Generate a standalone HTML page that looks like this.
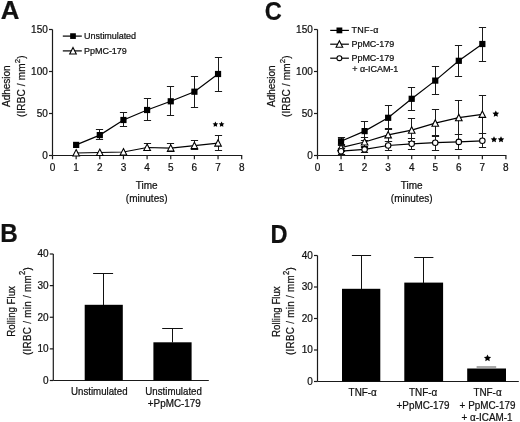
<!DOCTYPE html>
<html><head><meta charset="utf-8"><title>Figure</title>
<style>
html,body{margin:0;padding:0;background:#fff;}
body{width:520px;height:422px;overflow:hidden;}
svg{display:block;font-family:"Liberation Sans", sans-serif;fill:#111;filter:grayscale(1) blur(0.35px);}
text{stroke:#111;stroke-width:0.22px;}
</style></head><body>
<svg width="520" height="422" viewBox="0 0 520 422">
<rect width="520" height="422" fill="#fff"/>
<g fill="#111">
<text transform="translate(0.85,18.6) scale(1.02,1)" font-size="25.3" font-weight="bold">A</text>
<line x1="52.5" y1="29.5" x2="52.5" y2="155.5" stroke="#1a1a1a" stroke-width="1.2"/>
<line x1="49.0" y1="29.5" x2="52.5" y2="29.5" stroke="#1a1a1a" stroke-width="1.2"/>
<text x="47.8" y="32.8" font-size="10" text-anchor="end" font-weight="normal" >150</text>
<line x1="49.0" y1="71.5" x2="52.5" y2="71.5" stroke="#1a1a1a" stroke-width="1.2"/>
<text x="47.8" y="74.8" font-size="10" text-anchor="end" font-weight="normal" >100</text>
<line x1="49.0" y1="113.5" x2="52.5" y2="113.5" stroke="#1a1a1a" stroke-width="1.2"/>
<text x="47.8" y="116.8" font-size="10" text-anchor="end" font-weight="normal" >50</text>
<line x1="49.0" y1="155.5" x2="52.5" y2="155.5" stroke="#1a1a1a" stroke-width="1.2"/>
<text x="47.8" y="158.8" font-size="10" text-anchor="end" font-weight="normal" >0</text>
<line x1="52.5" y1="155.5" x2="242.2" y2="155.5" stroke="#1a1a1a" stroke-width="1.2"/>
<line x1="52.5" y1="155.5" x2="52.5" y2="159.3" stroke="#1a1a1a" stroke-width="1.2"/>
<text x="52.5" y="170.8" font-size="10" text-anchor="middle" font-weight="normal" >0</text>
<line x1="76.15" y1="155.5" x2="76.15" y2="159.3" stroke="#1a1a1a" stroke-width="1.2"/>
<text x="76.15" y="170.8" font-size="10" text-anchor="middle" font-weight="normal" >1</text>
<line x1="99.8" y1="155.5" x2="99.8" y2="159.3" stroke="#1a1a1a" stroke-width="1.2"/>
<text x="99.8" y="170.8" font-size="10" text-anchor="middle" font-weight="normal" >2</text>
<line x1="123.44999999999999" y1="155.5" x2="123.44999999999999" y2="159.3" stroke="#1a1a1a" stroke-width="1.2"/>
<text x="123.44999999999999" y="170.8" font-size="10" text-anchor="middle" font-weight="normal" >3</text>
<line x1="147.1" y1="155.5" x2="147.1" y2="159.3" stroke="#1a1a1a" stroke-width="1.2"/>
<text x="147.1" y="170.8" font-size="10" text-anchor="middle" font-weight="normal" >4</text>
<line x1="170.75" y1="155.5" x2="170.75" y2="159.3" stroke="#1a1a1a" stroke-width="1.2"/>
<text x="170.75" y="170.8" font-size="10" text-anchor="middle" font-weight="normal" >5</text>
<line x1="194.39999999999998" y1="155.5" x2="194.39999999999998" y2="159.3" stroke="#1a1a1a" stroke-width="1.2"/>
<text x="194.39999999999998" y="170.8" font-size="10" text-anchor="middle" font-weight="normal" >6</text>
<line x1="218.04999999999998" y1="155.5" x2="218.04999999999998" y2="159.3" stroke="#1a1a1a" stroke-width="1.2"/>
<text x="218.04999999999998" y="170.8" font-size="10" text-anchor="middle" font-weight="normal" >7</text>
<line x1="241.7" y1="155.5" x2="241.7" y2="159.3" stroke="#1a1a1a" stroke-width="1.2"/>
<text x="241.7" y="170.8" font-size="10" text-anchor="middle" font-weight="normal" >8</text>
<text x="146.7" y="188.5" font-size="10" text-anchor="middle" font-weight="normal" >Time</text>
<text x="146.7" y="201.5" font-size="10" text-anchor="middle" font-weight="normal" >(minutes)</text>
<text transform="translate(10.4,86.2) rotate(-90)" font-size="10" text-anchor="middle">Adhesion</text>
<text transform="translate(24.6,86.2) rotate(-90)" font-size="10" letter-spacing="0.15" text-anchor="middle">(IRBC / mm<tspan font-size="7.8" dy="-4.6">2</tspan><tspan dy="4.6">)</tspan></text>
<line x1="62.8" y1="36.1" x2="81.8" y2="36.1" stroke="#000" stroke-width="1.2"/>
<rect x="70.15" y="33.25" width="5.7" height="5.7" fill="#000"/>
<text x="84.1" y="39.1" font-size="9.0" text-anchor="start" font-weight="normal" letter-spacing="-0.05">Unstimulated</text>
<line x1="62.8" y1="50.9" x2="81.8" y2="50.9" stroke="#000" stroke-width="1.2"/>
<polygon points="73,47.4 76.3,54.0 69.7,54.0" fill="#fff" stroke="#000" stroke-width="1.1" stroke-linejoin="miter"/>
<text x="84.1" y="54.4" font-size="9.0" text-anchor="start" font-weight="normal" letter-spacing="-0.05">PpMC-179</text>
<line x1="99.5" y1="129.5" x2="99.5" y2="139.5" stroke="#1a1a1a" stroke-width="1.0"/>
<line x1="95.9" y1="129.5" x2="103.1" y2="129.5" stroke="#1a1a1a" stroke-width="1.0"/>
<line x1="95.9" y1="139.5" x2="103.1" y2="139.5" stroke="#1a1a1a" stroke-width="1.0"/>
<line x1="123.5" y1="112.5" x2="123.5" y2="126.5" stroke="#1a1a1a" stroke-width="1.0"/>
<line x1="119.9" y1="112.5" x2="127.1" y2="112.5" stroke="#1a1a1a" stroke-width="1.0"/>
<line x1="119.9" y1="126.5" x2="127.1" y2="126.5" stroke="#1a1a1a" stroke-width="1.0"/>
<line x1="147.5" y1="98.5" x2="147.5" y2="120.5" stroke="#1a1a1a" stroke-width="1.0"/>
<line x1="143.9" y1="98.5" x2="151.1" y2="98.5" stroke="#1a1a1a" stroke-width="1.0"/>
<line x1="143.9" y1="120.5" x2="151.1" y2="120.5" stroke="#1a1a1a" stroke-width="1.0"/>
<line x1="170.5" y1="86.5" x2="170.5" y2="115.5" stroke="#1a1a1a" stroke-width="1.0"/>
<line x1="166.9" y1="86.5" x2="174.1" y2="86.5" stroke="#1a1a1a" stroke-width="1.0"/>
<line x1="166.9" y1="115.5" x2="174.1" y2="115.5" stroke="#1a1a1a" stroke-width="1.0"/>
<line x1="194.5" y1="76.5" x2="194.5" y2="107.5" stroke="#1a1a1a" stroke-width="1.0"/>
<line x1="190.9" y1="76.5" x2="198.1" y2="76.5" stroke="#1a1a1a" stroke-width="1.0"/>
<line x1="190.9" y1="107.5" x2="198.1" y2="107.5" stroke="#1a1a1a" stroke-width="1.0"/>
<line x1="218.5" y1="57.5" x2="218.5" y2="91.5" stroke="#1a1a1a" stroke-width="1.0"/>
<line x1="214.9" y1="57.5" x2="222.1" y2="57.5" stroke="#1a1a1a" stroke-width="1.0"/>
<line x1="214.9" y1="91.5" x2="222.1" y2="91.5" stroke="#1a1a1a" stroke-width="1.0"/>
<line x1="147.5" y1="143.5" x2="147.5" y2="150.5" stroke="#1a1a1a" stroke-width="1.0"/>
<line x1="143.9" y1="143.5" x2="151.1" y2="143.5" stroke="#1a1a1a" stroke-width="1.0"/>
<line x1="143.9" y1="150.5" x2="151.1" y2="150.5" stroke="#1a1a1a" stroke-width="1.0"/>
<line x1="170.5" y1="143.5" x2="170.5" y2="151.5" stroke="#1a1a1a" stroke-width="1.0"/>
<line x1="166.9" y1="143.5" x2="174.1" y2="143.5" stroke="#1a1a1a" stroke-width="1.0"/>
<line x1="166.9" y1="151.5" x2="174.1" y2="151.5" stroke="#1a1a1a" stroke-width="1.0"/>
<line x1="194.5" y1="140.5" x2="194.5" y2="149.5" stroke="#1a1a1a" stroke-width="1.0"/>
<line x1="190.9" y1="140.5" x2="198.1" y2="140.5" stroke="#1a1a1a" stroke-width="1.0"/>
<line x1="190.9" y1="149.5" x2="198.1" y2="149.5" stroke="#1a1a1a" stroke-width="1.0"/>
<line x1="218.5" y1="135.5" x2="218.5" y2="150.5" stroke="#1a1a1a" stroke-width="1.0"/>
<line x1="214.9" y1="135.5" x2="222.1" y2="135.5" stroke="#1a1a1a" stroke-width="1.0"/>
<line x1="214.9" y1="150.5" x2="222.1" y2="150.5" stroke="#1a1a1a" stroke-width="1.0"/>
<polyline points="76.15,144.9 99.8,135.1 123.44999999999999,120 147.1,110 170.75,101.3 194.39999999999998,91.7 218.04999999999998,74" fill="none" stroke="#000" stroke-width="1.2"/>
<polyline points="76.15,153 99.8,152.5 123.44999999999999,152 147.1,147.5 170.75,148.1 194.39999999999998,145.6 218.04999999999998,143.1" fill="none" stroke="#000" stroke-width="1.2"/>
<rect x="73.05000000000001" y="141.8" width="6.2" height="6.2" fill="#000"/>
<rect x="96.7" y="132.0" width="6.2" height="6.2" fill="#000"/>
<rect x="120.35" y="116.9" width="6.2" height="6.2" fill="#000"/>
<rect x="144.0" y="106.9" width="6.2" height="6.2" fill="#000"/>
<rect x="167.65" y="98.2" width="6.2" height="6.2" fill="#000"/>
<rect x="191.29999999999998" y="88.60000000000001" width="6.2" height="6.2" fill="#000"/>
<rect x="214.95" y="70.9" width="6.2" height="6.2" fill="#000"/>
<polygon points="76.15,149.6 79.45,156.0 72.85000000000001,156.0" fill="#fff" stroke="#000" stroke-width="1.1" stroke-linejoin="miter"/>
<polygon points="99.8,149.1 103.1,155.5 96.5,155.5" fill="#fff" stroke="#000" stroke-width="1.1" stroke-linejoin="miter"/>
<polygon points="123.44999999999999,148.6 126.74999999999999,155.0 120.14999999999999,155.0" fill="#fff" stroke="#000" stroke-width="1.1" stroke-linejoin="miter"/>
<polygon points="147.1,144.1 150.4,150.5 143.79999999999998,150.5" fill="#fff" stroke="#000" stroke-width="1.1" stroke-linejoin="miter"/>
<polygon points="170.75,144.7 174.05,151.1 167.45,151.1" fill="#fff" stroke="#000" stroke-width="1.1" stroke-linejoin="miter"/>
<polygon points="194.39999999999998,142.2 197.7,148.6 191.09999999999997,148.6" fill="#fff" stroke="#000" stroke-width="1.1" stroke-linejoin="miter"/>
<polygon points="218.04999999999998,139.7 221.35,146.1 214.74999999999997,146.1" fill="#fff" stroke="#000" stroke-width="1.1" stroke-linejoin="miter"/>
<polygon points="215.40,121.40 216.28,123.19 218.25,123.47 216.83,124.86 217.16,126.83 215.40,125.90 213.64,126.83 213.97,124.86 212.55,123.47 214.52,123.19" fill="#000"/>
<polygon points="221.60,121.40 222.48,123.19 224.45,123.47 223.03,124.86 223.36,126.83 221.60,125.90 219.84,126.83 220.17,124.86 218.75,123.47 220.72,123.19" fill="#000"/>
<text transform="translate(264.7,19.65) scale(0.92,1)" font-size="25.7" font-weight="bold">C</text>
<line x1="317.5" y1="29.5" x2="317.5" y2="155.5" stroke="#1a1a1a" stroke-width="1.2"/>
<line x1="314.0" y1="29.5" x2="317.5" y2="29.5" stroke="#1a1a1a" stroke-width="1.2"/>
<text x="312.8" y="32.8" font-size="10" text-anchor="end" font-weight="normal" >150</text>
<line x1="314.0" y1="71.5" x2="317.5" y2="71.5" stroke="#1a1a1a" stroke-width="1.2"/>
<text x="312.8" y="74.8" font-size="10" text-anchor="end" font-weight="normal" >100</text>
<line x1="314.0" y1="113.5" x2="317.5" y2="113.5" stroke="#1a1a1a" stroke-width="1.2"/>
<text x="312.8" y="116.8" font-size="10" text-anchor="end" font-weight="normal" >50</text>
<line x1="314.0" y1="155.5" x2="317.5" y2="155.5" stroke="#1a1a1a" stroke-width="1.2"/>
<text x="312.8" y="158.8" font-size="10" text-anchor="end" font-weight="normal" >0</text>
<line x1="317.5" y1="155.5" x2="506.4" y2="155.5" stroke="#1a1a1a" stroke-width="1.2"/>
<line x1="317.5" y1="155.5" x2="317.5" y2="159.3" stroke="#1a1a1a" stroke-width="1.2"/>
<text x="317.5" y="170.8" font-size="10" text-anchor="middle" font-weight="normal" >0</text>
<line x1="341.05" y1="155.5" x2="341.05" y2="159.3" stroke="#1a1a1a" stroke-width="1.2"/>
<text x="341.05" y="170.8" font-size="10" text-anchor="middle" font-weight="normal" >1</text>
<line x1="364.6" y1="155.5" x2="364.6" y2="159.3" stroke="#1a1a1a" stroke-width="1.2"/>
<text x="364.6" y="170.8" font-size="10" text-anchor="middle" font-weight="normal" >2</text>
<line x1="388.15" y1="155.5" x2="388.15" y2="159.3" stroke="#1a1a1a" stroke-width="1.2"/>
<text x="388.15" y="170.8" font-size="10" text-anchor="middle" font-weight="normal" >3</text>
<line x1="411.7" y1="155.5" x2="411.7" y2="159.3" stroke="#1a1a1a" stroke-width="1.2"/>
<text x="411.7" y="170.8" font-size="10" text-anchor="middle" font-weight="normal" >4</text>
<line x1="435.25" y1="155.5" x2="435.25" y2="159.3" stroke="#1a1a1a" stroke-width="1.2"/>
<text x="435.25" y="170.8" font-size="10" text-anchor="middle" font-weight="normal" >5</text>
<line x1="458.8" y1="155.5" x2="458.8" y2="159.3" stroke="#1a1a1a" stroke-width="1.2"/>
<text x="458.8" y="170.8" font-size="10" text-anchor="middle" font-weight="normal" >6</text>
<line x1="482.35" y1="155.5" x2="482.35" y2="159.3" stroke="#1a1a1a" stroke-width="1.2"/>
<text x="482.35" y="170.8" font-size="10" text-anchor="middle" font-weight="normal" >7</text>
<line x1="505.9" y1="155.5" x2="505.9" y2="159.3" stroke="#1a1a1a" stroke-width="1.2"/>
<text x="505.9" y="170.8" font-size="10" text-anchor="middle" font-weight="normal" >8</text>
<text x="411.7" y="188.5" font-size="10" text-anchor="middle" font-weight="normal" >Time</text>
<text x="411.7" y="201.5" font-size="10" text-anchor="middle" font-weight="normal" >(minutes)</text>
<text transform="translate(275.4,86.2) rotate(-90)" font-size="10" text-anchor="middle">Adhesion</text>
<text transform="translate(289.6,86.2) rotate(-90)" font-size="10" letter-spacing="0.15" text-anchor="middle">(IRBC / mm<tspan font-size="7.8" dy="-4.6">2</tspan><tspan dy="4.6">)</tspan></text>
<line x1="330.2" y1="30.4" x2="348.9" y2="30.4" stroke="#000" stroke-width="1.2"/>
<rect x="336.5" y="27.5" width="5.8" height="5.8" fill="#000"/>
<text x="351.5" y="33.2" font-size="9.0" text-anchor="start" font-weight="normal" letter-spacing="0.3">TNF-α</text>
<line x1="330.2" y1="44.2" x2="348.9" y2="44.2" stroke="#000" stroke-width="1.2"/>
<polygon points="339.4,40.800000000000004 342.7,47.2 336.09999999999997,47.2" fill="#fff" stroke="#000" stroke-width="1.1" stroke-linejoin="miter"/>
<text x="351.5" y="47.2" font-size="9.0" text-anchor="start" font-weight="normal" letter-spacing="-0.05">PpMC-179</text>
<line x1="330.2" y1="58.2" x2="348.9" y2="58.2" stroke="#000" stroke-width="1.2"/>
<circle cx="339.4" cy="58.2" r="2.45" fill="#fff" stroke="#000" stroke-width="1.1"/>
<text x="351.5" y="61.2" font-size="9.0" text-anchor="start" font-weight="normal" letter-spacing="-0.05">PpMC-179</text>
<text x="352.3" y="71.5" font-size="9.0" text-anchor="start" font-weight="normal" letter-spacing="-0.05">+ α-ICAM-1</text>
<line x1="341.5" y1="137.5" x2="341.5" y2="145.5" stroke="#1a1a1a" stroke-width="1.0"/>
<line x1="337.9" y1="137.5" x2="345.1" y2="137.5" stroke="#1a1a1a" stroke-width="1.0"/>
<line x1="337.9" y1="145.5" x2="345.1" y2="145.5" stroke="#1a1a1a" stroke-width="1.0"/>
<line x1="364.5" y1="121.5" x2="364.5" y2="140.5" stroke="#1a1a1a" stroke-width="1.0"/>
<line x1="360.9" y1="121.5" x2="368.1" y2="121.5" stroke="#1a1a1a" stroke-width="1.0"/>
<line x1="360.9" y1="140.5" x2="368.1" y2="140.5" stroke="#1a1a1a" stroke-width="1.0"/>
<line x1="388.5" y1="105.5" x2="388.5" y2="129.5" stroke="#1a1a1a" stroke-width="1.0"/>
<line x1="384.9" y1="105.5" x2="392.1" y2="105.5" stroke="#1a1a1a" stroke-width="1.0"/>
<line x1="384.9" y1="129.5" x2="392.1" y2="129.5" stroke="#1a1a1a" stroke-width="1.0"/>
<line x1="411.5" y1="87.5" x2="411.5" y2="110.5" stroke="#1a1a1a" stroke-width="1.0"/>
<line x1="407.9" y1="87.5" x2="415.1" y2="87.5" stroke="#1a1a1a" stroke-width="1.0"/>
<line x1="407.9" y1="110.5" x2="415.1" y2="110.5" stroke="#1a1a1a" stroke-width="1.0"/>
<line x1="435.5" y1="66.5" x2="435.5" y2="94.5" stroke="#1a1a1a" stroke-width="1.0"/>
<line x1="431.9" y1="66.5" x2="439.1" y2="66.5" stroke="#1a1a1a" stroke-width="1.0"/>
<line x1="431.9" y1="94.5" x2="439.1" y2="94.5" stroke="#1a1a1a" stroke-width="1.0"/>
<line x1="458.5" y1="45.5" x2="458.5" y2="76.5" stroke="#1a1a1a" stroke-width="1.0"/>
<line x1="454.9" y1="45.5" x2="462.1" y2="45.5" stroke="#1a1a1a" stroke-width="1.0"/>
<line x1="454.9" y1="76.5" x2="462.1" y2="76.5" stroke="#1a1a1a" stroke-width="1.0"/>
<line x1="482.5" y1="27.5" x2="482.5" y2="61.5" stroke="#1a1a1a" stroke-width="1.0"/>
<line x1="478.9" y1="27.5" x2="486.1" y2="27.5" stroke="#1a1a1a" stroke-width="1.0"/>
<line x1="478.9" y1="61.5" x2="486.1" y2="61.5" stroke="#1a1a1a" stroke-width="1.0"/>
<line x1="341.5" y1="144.5" x2="341.5" y2="151.5" stroke="#1a1a1a" stroke-width="1.0"/>
<line x1="337.9" y1="144.5" x2="345.1" y2="144.5" stroke="#1a1a1a" stroke-width="1.0"/>
<line x1="337.9" y1="151.5" x2="345.1" y2="151.5" stroke="#1a1a1a" stroke-width="1.0"/>
<line x1="364.5" y1="137.5" x2="364.5" y2="147.5" stroke="#1a1a1a" stroke-width="1.0"/>
<line x1="360.9" y1="137.5" x2="368.1" y2="137.5" stroke="#1a1a1a" stroke-width="1.0"/>
<line x1="360.9" y1="147.5" x2="368.1" y2="147.5" stroke="#1a1a1a" stroke-width="1.0"/>
<line x1="388.5" y1="128.5" x2="388.5" y2="141.5" stroke="#1a1a1a" stroke-width="1.0"/>
<line x1="384.9" y1="128.5" x2="392.1" y2="128.5" stroke="#1a1a1a" stroke-width="1.0"/>
<line x1="384.9" y1="141.5" x2="392.1" y2="141.5" stroke="#1a1a1a" stroke-width="1.0"/>
<line x1="411.5" y1="118.5" x2="411.5" y2="141.5" stroke="#1a1a1a" stroke-width="1.0"/>
<line x1="407.9" y1="118.5" x2="415.1" y2="118.5" stroke="#1a1a1a" stroke-width="1.0"/>
<line x1="407.9" y1="141.5" x2="415.1" y2="141.5" stroke="#1a1a1a" stroke-width="1.0"/>
<line x1="435.5" y1="109.5" x2="435.5" y2="136.5" stroke="#1a1a1a" stroke-width="1.0"/>
<line x1="431.9" y1="109.5" x2="439.1" y2="109.5" stroke="#1a1a1a" stroke-width="1.0"/>
<line x1="431.9" y1="136.5" x2="439.1" y2="136.5" stroke="#1a1a1a" stroke-width="1.0"/>
<line x1="458.5" y1="100.5" x2="458.5" y2="134.5" stroke="#1a1a1a" stroke-width="1.0"/>
<line x1="454.9" y1="100.5" x2="462.1" y2="100.5" stroke="#1a1a1a" stroke-width="1.0"/>
<line x1="454.9" y1="134.5" x2="462.1" y2="134.5" stroke="#1a1a1a" stroke-width="1.0"/>
<line x1="482.5" y1="95.5" x2="482.5" y2="133.5" stroke="#1a1a1a" stroke-width="1.0"/>
<line x1="478.9" y1="95.5" x2="486.1" y2="95.5" stroke="#1a1a1a" stroke-width="1.0"/>
<line x1="478.9" y1="133.5" x2="486.1" y2="133.5" stroke="#1a1a1a" stroke-width="1.0"/>
<line x1="341.5" y1="148.5" x2="341.5" y2="154.5" stroke="#1a1a1a" stroke-width="1.0"/>
<line x1="337.9" y1="148.5" x2="345.1" y2="148.5" stroke="#1a1a1a" stroke-width="1.0"/>
<line x1="337.9" y1="154.5" x2="345.1" y2="154.5" stroke="#1a1a1a" stroke-width="1.0"/>
<line x1="364.5" y1="146.5" x2="364.5" y2="152.5" stroke="#1a1a1a" stroke-width="1.0"/>
<line x1="360.9" y1="146.5" x2="368.1" y2="146.5" stroke="#1a1a1a" stroke-width="1.0"/>
<line x1="360.9" y1="152.5" x2="368.1" y2="152.5" stroke="#1a1a1a" stroke-width="1.0"/>
<line x1="388.5" y1="141.5" x2="388.5" y2="150.5" stroke="#1a1a1a" stroke-width="1.0"/>
<line x1="384.9" y1="141.5" x2="392.1" y2="141.5" stroke="#1a1a1a" stroke-width="1.0"/>
<line x1="384.9" y1="150.5" x2="392.1" y2="150.5" stroke="#1a1a1a" stroke-width="1.0"/>
<line x1="411.5" y1="138.5" x2="411.5" y2="149.5" stroke="#1a1a1a" stroke-width="1.0"/>
<line x1="407.9" y1="138.5" x2="415.1" y2="138.5" stroke="#1a1a1a" stroke-width="1.0"/>
<line x1="407.9" y1="149.5" x2="415.1" y2="149.5" stroke="#1a1a1a" stroke-width="1.0"/>
<line x1="435.5" y1="135.5" x2="435.5" y2="150.5" stroke="#1a1a1a" stroke-width="1.0"/>
<line x1="431.9" y1="135.5" x2="439.1" y2="135.5" stroke="#1a1a1a" stroke-width="1.0"/>
<line x1="431.9" y1="150.5" x2="439.1" y2="150.5" stroke="#1a1a1a" stroke-width="1.0"/>
<line x1="458.5" y1="134.5" x2="458.5" y2="149.5" stroke="#1a1a1a" stroke-width="1.0"/>
<line x1="454.9" y1="134.5" x2="462.1" y2="134.5" stroke="#1a1a1a" stroke-width="1.0"/>
<line x1="454.9" y1="149.5" x2="462.1" y2="149.5" stroke="#1a1a1a" stroke-width="1.0"/>
<line x1="482.5" y1="133.5" x2="482.5" y2="147.5" stroke="#1a1a1a" stroke-width="1.0"/>
<line x1="478.9" y1="133.5" x2="486.1" y2="133.5" stroke="#1a1a1a" stroke-width="1.0"/>
<line x1="478.9" y1="147.5" x2="486.1" y2="147.5" stroke="#1a1a1a" stroke-width="1.0"/>
<polyline points="341.05,141.3 364.6,131.1 388.15,117.8 411.7,98.8 435.25,80.6 458.8,60.8 482.35,44" fill="none" stroke="#000" stroke-width="1.2"/>
<polyline points="341.05,147.6 364.6,142 388.15,134.9 411.7,130.2 435.25,123.2 458.8,117.7 482.35,114.4" fill="none" stroke="#000" stroke-width="1.2"/>
<polyline points="341.05,151.2 364.6,149.4 388.15,145.5 411.7,143.8 435.25,142.7 458.8,141.9 482.35,140.8" fill="none" stroke="#000" stroke-width="1.2"/>
<rect x="337.95" y="138.20000000000002" width="6.2" height="6.2" fill="#000"/>
<rect x="361.5" y="128.0" width="6.2" height="6.2" fill="#000"/>
<rect x="385.04999999999995" y="114.7" width="6.2" height="6.2" fill="#000"/>
<rect x="408.59999999999997" y="95.7" width="6.2" height="6.2" fill="#000"/>
<rect x="432.15" y="77.5" width="6.2" height="6.2" fill="#000"/>
<rect x="455.7" y="57.699999999999996" width="6.2" height="6.2" fill="#000"/>
<rect x="479.25" y="40.9" width="6.2" height="6.2" fill="#000"/>
<polygon points="341.05,144.2 344.35,150.6 337.75,150.6" fill="#fff" stroke="#000" stroke-width="1.1" stroke-linejoin="miter"/>
<polygon points="364.6,138.6 367.90000000000003,145.0 361.3,145.0" fill="#fff" stroke="#000" stroke-width="1.1" stroke-linejoin="miter"/>
<polygon points="388.15,131.5 391.45,137.9 384.84999999999997,137.9" fill="#fff" stroke="#000" stroke-width="1.1" stroke-linejoin="miter"/>
<polygon points="411.7,126.79999999999998 415.0,133.2 408.4,133.2" fill="#fff" stroke="#000" stroke-width="1.1" stroke-linejoin="miter"/>
<polygon points="435.25,119.8 438.55,126.2 431.95,126.2" fill="#fff" stroke="#000" stroke-width="1.1" stroke-linejoin="miter"/>
<polygon points="458.8,114.3 462.1,120.7 455.5,120.7" fill="#fff" stroke="#000" stroke-width="1.1" stroke-linejoin="miter"/>
<polygon points="482.35,111.0 485.65000000000003,117.4 479.05,117.4" fill="#fff" stroke="#000" stroke-width="1.1" stroke-linejoin="miter"/>
<circle cx="341.05" cy="151.2" r="2.75" fill="#fff" stroke="#000" stroke-width="1.1"/>
<circle cx="364.6" cy="149.4" r="2.75" fill="#fff" stroke="#000" stroke-width="1.1"/>
<circle cx="388.15" cy="145.5" r="2.75" fill="#fff" stroke="#000" stroke-width="1.1"/>
<circle cx="411.7" cy="143.8" r="2.75" fill="#fff" stroke="#000" stroke-width="1.1"/>
<circle cx="435.25" cy="142.7" r="2.75" fill="#fff" stroke="#000" stroke-width="1.1"/>
<circle cx="458.8" cy="141.9" r="2.75" fill="#fff" stroke="#000" stroke-width="1.1"/>
<circle cx="482.35" cy="140.8" r="2.75" fill="#fff" stroke="#000" stroke-width="1.1"/>
<polygon points="495.80,110.40 496.83,112.48 499.13,112.82 497.46,114.44 497.86,116.73 495.80,115.65 493.74,116.73 494.14,114.44 492.47,112.82 494.77,112.48" fill="#000"/>
<polygon points="494.00,136.20 495.00,138.22 497.23,138.55 495.62,140.13 496.00,142.35 494.00,141.30 492.00,142.35 492.38,140.13 490.77,138.55 493.00,138.22" fill="#000"/>
<polygon points="501.00,136.20 502.00,138.22 504.23,138.55 502.62,140.13 503.00,142.35 501.00,141.30 499.00,142.35 499.38,140.13 497.77,138.55 500.00,138.22" fill="#000"/>
<text transform="translate(0.3,241.7) scale(0.957,1)" font-size="25.4" font-weight="bold">B</text>
<line x1="53.3" y1="254.0" x2="53.3" y2="380.5" stroke="#1a1a1a" stroke-width="1.2"/>
<line x1="49.8" y1="254.0" x2="53.3" y2="254.0" stroke="#1a1a1a" stroke-width="1.2"/>
<text x="48.599999999999994" y="257.3" font-size="10" text-anchor="end" font-weight="normal" >40</text>
<line x1="49.8" y1="285.625" x2="53.3" y2="285.625" stroke="#1a1a1a" stroke-width="1.2"/>
<text x="48.599999999999994" y="288.925" font-size="10" text-anchor="end" font-weight="normal" >30</text>
<line x1="49.8" y1="317.25" x2="53.3" y2="317.25" stroke="#1a1a1a" stroke-width="1.2"/>
<text x="48.599999999999994" y="320.55" font-size="10" text-anchor="end" font-weight="normal" >20</text>
<line x1="49.8" y1="348.875" x2="53.3" y2="348.875" stroke="#1a1a1a" stroke-width="1.2"/>
<text x="48.599999999999994" y="352.175" font-size="10" text-anchor="end" font-weight="normal" >10</text>
<line x1="49.8" y1="380.5" x2="53.3" y2="380.5" stroke="#1a1a1a" stroke-width="1.2"/>
<text x="48.599999999999994" y="383.8" font-size="10" text-anchor="end" font-weight="normal" >0</text>
<line x1="53.3" y1="380.5" x2="208.8" y2="380.5" stroke="#1a1a1a" stroke-width="1.2"/>
<rect x="84.7" y="304.8" width="38.1" height="75.69999999999999" fill="#000"/>
<rect x="153.4" y="342.3" width="38.2" height="38.19999999999999" fill="#000"/>
<line x1="103.5" y1="273.5" x2="103.5" y2="305" stroke="#111" stroke-width="1.0"/>
<line x1="93.1" y1="273.5" x2="113.1" y2="273.5" stroke="#111" stroke-width="1.0"/>
<line x1="172.5" y1="328.5" x2="172.5" y2="342.5" stroke="#111" stroke-width="1.0"/>
<line x1="162.2" y1="328.5" x2="182.8" y2="328.5" stroke="#111" stroke-width="1.0"/>
<text transform="translate(99.3,394.6) scale(1,1.1)" font-size="9.7" text-anchor="middle" >Unstimulated</text>
<text transform="translate(173.6,394.6) scale(1,1.1)" font-size="9.7" text-anchor="middle" >Unstimulated</text>
<text transform="translate(174.3,406.8) scale(1,1.1)" font-size="9.9" text-anchor="middle" >+PpMC-179</text>
<text transform="translate(15.2,311.4) rotate(-90) scale(1,1.12)" font-size="9.7" text-anchor="middle">Rolling Flux</text>
<text transform="translate(30.6,311.0) rotate(-90) scale(1,1.12)" font-size="9.8" letter-spacing="0.3" text-anchor="middle">(IRBC / min / mm<tspan font-size="7.6" dy="-5">2</tspan><tspan dy="5">)</tspan></text>
<text transform="translate(270.6,242.8) scale(0.92,1)" font-size="25.7" font-weight="bold">D</text>
<line x1="317.5" y1="255.5" x2="317.5" y2="381.5" stroke="#1a1a1a" stroke-width="1.2"/>
<line x1="314.0" y1="255.5" x2="317.5" y2="255.5" stroke="#1a1a1a" stroke-width="1.2"/>
<text x="312.8" y="258.8" font-size="10" text-anchor="end" font-weight="normal" >40</text>
<line x1="314.0" y1="287.0" x2="317.5" y2="287.0" stroke="#1a1a1a" stroke-width="1.2"/>
<text x="312.8" y="290.3" font-size="10" text-anchor="end" font-weight="normal" >30</text>
<line x1="314.0" y1="318.5" x2="317.5" y2="318.5" stroke="#1a1a1a" stroke-width="1.2"/>
<text x="312.8" y="321.8" font-size="10" text-anchor="end" font-weight="normal" >20</text>
<line x1="314.0" y1="350.0" x2="317.5" y2="350.0" stroke="#1a1a1a" stroke-width="1.2"/>
<text x="312.8" y="353.3" font-size="10" text-anchor="end" font-weight="normal" >10</text>
<line x1="314.0" y1="381.5" x2="317.5" y2="381.5" stroke="#1a1a1a" stroke-width="1.2"/>
<text x="312.8" y="384.8" font-size="10" text-anchor="end" font-weight="normal" >0</text>
<line x1="317.5" y1="381.5" x2="518.8" y2="381.5" stroke="#1a1a1a" stroke-width="1.2"/>
<rect x="342" y="288.8" width="38.30000000000001" height="92.69999999999999" fill="#000"/>
<line x1="361.5" y1="255.5" x2="361.5" y2="289.3" stroke="#111" stroke-width="1.0"/>
<line x1="351.9" y1="255.5" x2="371.1" y2="255.5" stroke="#111" stroke-width="1.0"/>
<rect x="404.3" y="282.6" width="38.80000000000001" height="98.89999999999998" fill="#000"/>
<line x1="423.5" y1="257.5" x2="423.5" y2="283.1" stroke="#111" stroke-width="1.0"/>
<line x1="414.2" y1="257.5" x2="433.4" y2="257.5" stroke="#111" stroke-width="1.0"/>
<rect x="467.2" y="368.5" width="38.8" height="13.0" fill="#000"/>
<line x1="476.6" y1="367" x2="496.2" y2="367" stroke="#555" stroke-width="1.0"/>
<polygon points="487.50,354.40 488.62,356.66 491.11,357.03 489.31,358.79 489.73,361.27 487.50,360.10 485.27,361.27 485.69,358.79 483.89,357.03 486.38,356.66" fill="#000"/>
<text transform="translate(362.7,396.2) scale(1,1.1)" font-size="9.9" text-anchor="middle" >TNF-α</text>
<text transform="translate(423.1,396.2) scale(1,1.1)" font-size="9.9" text-anchor="middle" >TNF-α</text>
<text transform="translate(423.1,408.7) scale(1,1.1)" font-size="9.9" text-anchor="middle" >+PpMC-179</text>
<text transform="translate(487.5,396.2) scale(1,1.1)" font-size="9.9" text-anchor="middle" >TNF-α</text>
<text transform="translate(487.5,408.7) scale(1,1.1)" font-size="9.9" text-anchor="middle" >+ PpMC-179</text>
<text transform="translate(487.1,421.2) scale(1,1.1)" font-size="9.9" text-anchor="middle" >+ α-ICAM-1</text>
<text transform="translate(279.6,311.6) rotate(-90) scale(1,1.12)" font-size="9.7" text-anchor="middle">Rolling Flux</text>
<text transform="translate(294.2,311.0) rotate(-90) scale(1,1.12)" font-size="9.8" letter-spacing="0.3" text-anchor="middle">(IRBC / min / mm<tspan font-size="7.6" dy="-5">2</tspan><tspan dy="5">)</tspan></text>
</g>
</svg>
</body></html>
